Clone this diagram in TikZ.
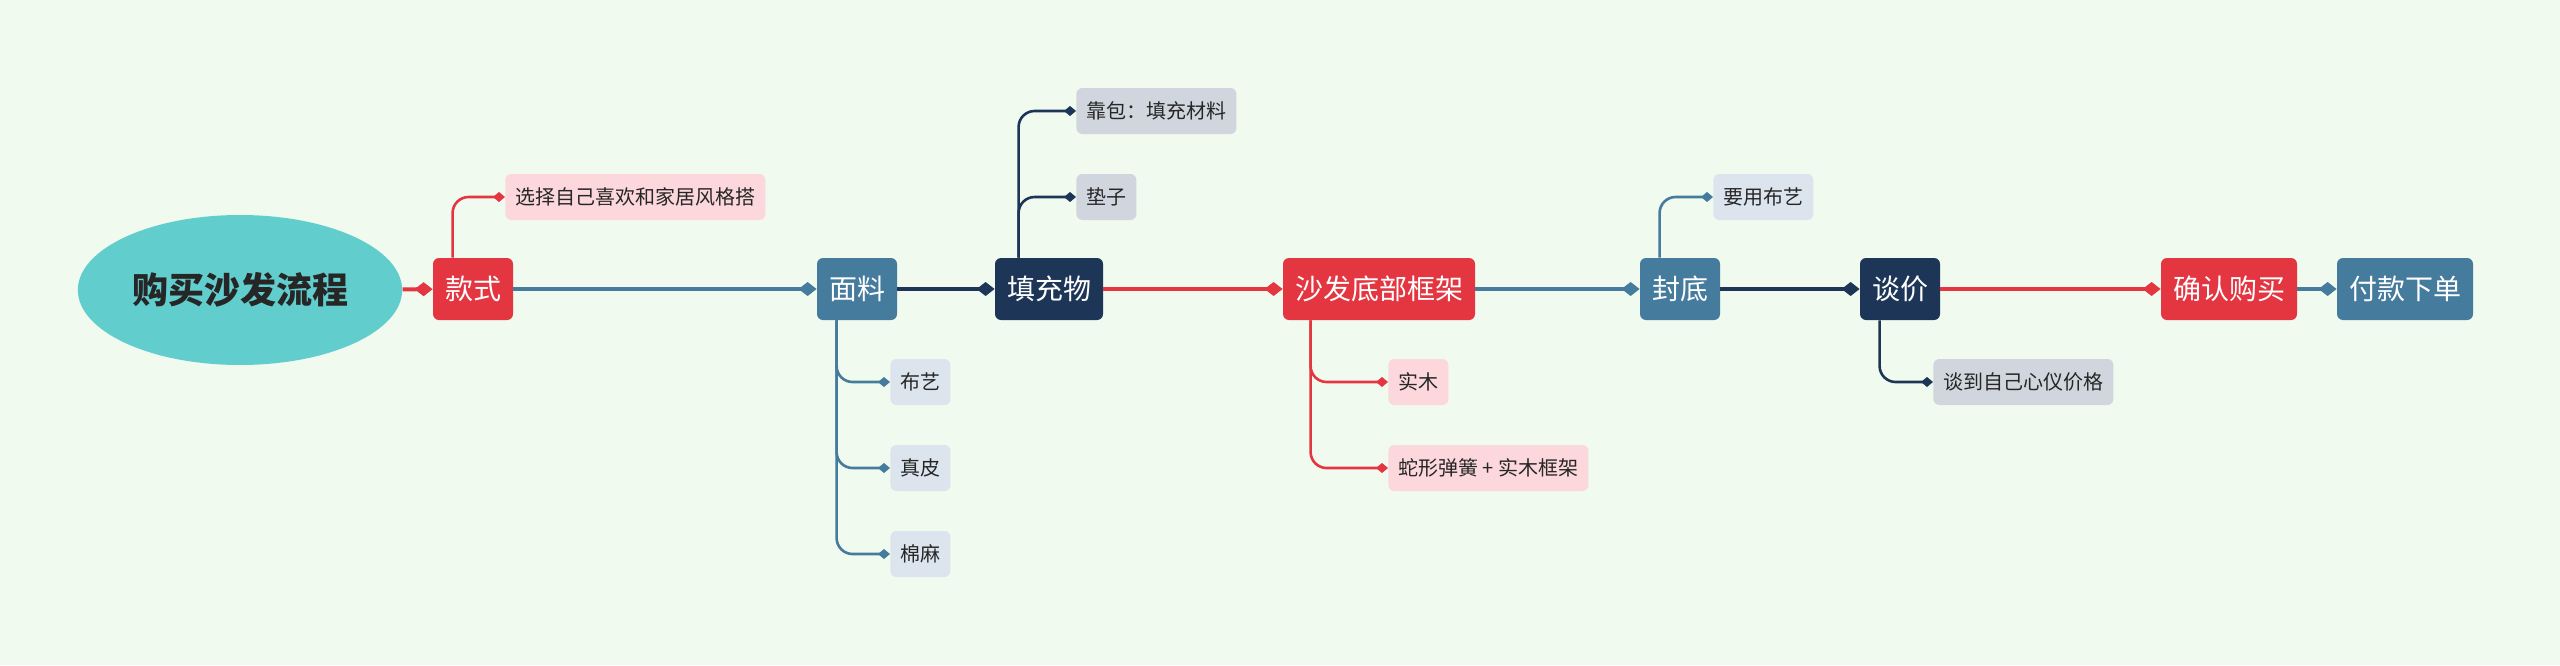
\documentclass[tikz,border=0pt]{standalone}
\usepackage{fontspec}
\setmainfont{Noto Sans CJK SC}
\usetikzlibrary{arrows.meta, shapes.geometric}
\definecolor{bgc}{HTML}{F0FAEE}
\definecolor{redc}{HTML}{E33641}
\definecolor{bluec}{HTML}{457B9D}
\definecolor{navyc}{HTML}{1D3557}
\definecolor{tealc}{HTML}{62CDCD}
\definecolor{pinkc}{HTML}{FCD7DC}
\definecolor{lbluec}{HTML}{DCE5EE}
\definecolor{grayc}{HTML}{D1D6DE}
\tikzset{
  main/.style = {rounded corners=3pt, text=white, font=\fontsize{14}{16}\selectfont, inner xsep=6pt, minimum height=31pt},
  sub/.style = {rounded corners=3pt, text=black!85, font=\fontsize{10}{12}\selectfont, inner xsep=5pt, minimum height=23pt},
  link/.style = {line width=2pt, -{Diamond[length=9pt,width=7pt]}},
  sublink/.style = {line width=1.3pt, rounded corners=8pt, -{Diamond[length=6pt,width=5pt]}},
}
\begin{document}
\begin{tikzpicture}[x=0.5pt, y=-0.5pt]
\useasboundingbox[fill=bgc] (0,0) rectangle (2560,665);
\node[ellipse, fill=tealc, minimum width=150pt, minimum height=75pt, text=black!85, font=\fontsize{18}{20}\selectfont\bfseries] (root) at (240,290) {购买沙发流程};
\node[main, fill=redc] (kuanshi) at (473,289) {款式};
\node[main, fill=bluec] (mianliao) at (857,289) {面料};
\node[main, fill=navyc] (tianchong) at (1049,289) {填充物};
\node[main, fill=redc] (kuangjia) at (1379,289) {沙发底部框架};
\node[main, fill=bluec] (fengdi) at (1680,289) {封底};
\node[main, fill=navyc] (tanjia) at (1900,289) {谈价};
\node[main, fill=redc] (queren) at (2229,289) {确认购买};
\node[main, fill=bluec] (fukuan) at (2405,289) {付款下单};
% sub topics
\node[sub, fill=pinkc, anchor=west] (xuanze) at (505,197) {选择自己喜欢和家居风格搭};
\node[sub, fill=grayc, anchor=west] (kaobao) at (1076,111) {靠包：填充材料};
\node[sub, fill=grayc, anchor=west] (dianzi) at (1076,197) {垫子};
\node[sub, fill=lbluec, anchor=west] (buyi) at (890,382) {布艺};
\node[sub, fill=lbluec, anchor=west] (zhenpi) at (890,468) {真皮};
\node[sub, fill=lbluec, anchor=west] (mianma) at (890,554) {棉麻};
\node[sub, fill=pinkc, anchor=west] (shimu) at (1388,382) {实木};
\node[sub, fill=pinkc, anchor=west] (shexing) at (1388,468) {蛇形弹簧 + 实木框架};
\node[sub, fill=lbluec, anchor=west] (buyi2) at (1713,197) {要用布艺};
\node[sub, fill=grayc, anchor=west] (xinyi) at (1933,382) {谈到自己心仪价格};
% main links
\draw[link, redc] (root) -- (kuanshi);
\draw[link, bluec] (kuanshi) -- (mianliao);
\draw[link, navyc] (mianliao) -- (tianchong);
\draw[link, redc] (tianchong) -- (kuangjia);
\draw[link, bluec] (kuangjia) -- (fengdi);
\draw[link, navyc] (fengdi) -- (tanjia);
\draw[link, redc] (tanjia) -- (queren);
\draw[link, bluec] (queren) -- (fukuan);
% sub links
\draw[sublink, redc] ([xshift=10pt]kuanshi.north west) |- (xuanze.west);
\draw[sublink, navyc] ([xshift=12pt]tianchong.north west) |- (kaobao.west);
\draw[sublink, navyc] ([xshift=12pt]tianchong.north west) |- (dianzi.west);
\draw[sublink, bluec] ([xshift=10pt]mianliao.south west) |- (buyi.west);
\draw[sublink, bluec] ([xshift=10pt]mianliao.south west) |- (zhenpi.west);
\draw[sublink, bluec] ([xshift=10pt]mianliao.south west) |- (mianma.west);
\draw[sublink, redc] ([xshift=14pt]kuangjia.south west) |- (shimu.west);
\draw[sublink, redc] ([xshift=14pt]kuangjia.south west) |- (shexing.west);
\draw[sublink, bluec] ([xshift=10pt]fengdi.north west) |- (buyi2.west);
\draw[sublink, navyc] ([xshift=10pt]tanjia.south west) |- (xinyi.west);
\end{tikzpicture}
\end{document}
